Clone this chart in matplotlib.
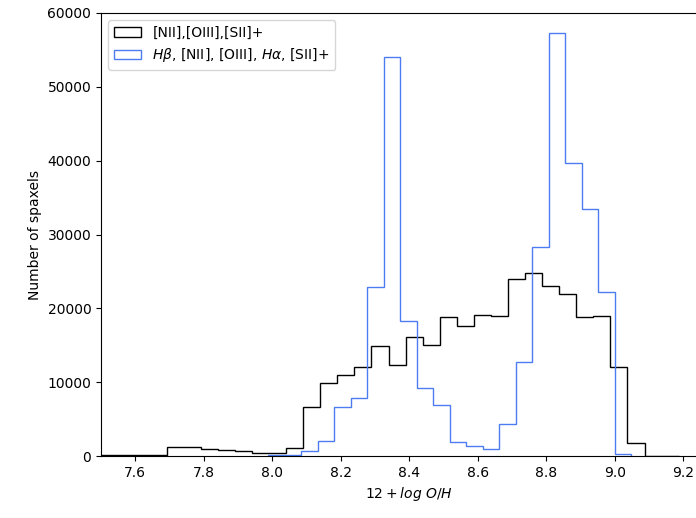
import numpy as np
import matplotlib.pyplot as plt

# Metallicity histograms (12 + log O/H) for the two line sets
bins_lo_a, bins_hi_a = 7.4924, 9.1866
counts_a = [150, 150, 150, 150,
            1260, 1260, 990, 810, 630, 450, 450, 1120,
            6590, 9840, 10970, 12100, 14850, 12330, 16080, 15030,
            18790, 17650, 19100, 18960, 23970, 24830, 23030, 21900,
            18790, 18960, 12010, 1720, 50, 30]

bins_lo_b, bins_hi_b = 7.9885, 9.0478
counts_b = [130, 130, 720, 2030, 6600, 7900, 22930, 54000,
            18330, 9170, 6910, 1850, 1400, 900, 4290, 12780,
            28260, 57250, 39650, 33450, 22260, 230]

label_a = '[NII],[OIII],[SII]+'
label_b = r'$H\beta$, [NII], [OIII], $H\alpha$, [SII]+'

edges_a = np.linspace(bins_lo_a, bins_hi_a, len(counts_a) + 1)
edges_b = np.linspace(bins_lo_b, bins_hi_b, len(counts_b) + 1)

fig = plt.figure(figsize=(6.96, 5.18), dpi=100)
W, H = 696, 518
ax = fig.add_axes([101 / W, (H - 456) / H, 616.5 / W, 443 / H])

ax.hist(edges_a[:-1], bins=edges_a, weights=counts_a, histtype='step',
        color='k', linewidth=1.0, label=label_a)
ax.hist(edges_b[:-1], bins=edges_b, weights=counts_b, histtype='step',
        color='#4d7cf2', linewidth=1.0, label=label_b)

ax.set_xlim(7.5, 9.3)
ax.set_ylim(0, 60000)
ax.set_xticks([7.6, 7.8, 8.0, 8.2, 8.4, 8.6, 8.8, 9.0, 9.2])
ax.set_xlabel(r'$12 + log\ O/H$')
ax.set_ylabel('Number of spaxels')
ax.legend(loc='upper left')

fig.savefig('out.png', dpi=100)
